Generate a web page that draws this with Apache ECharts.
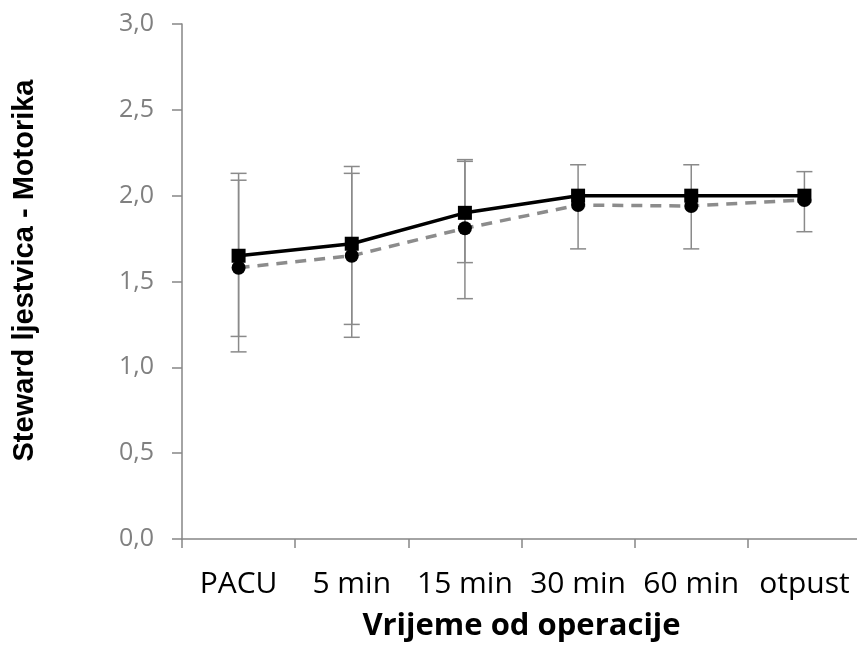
<!DOCTYPE html>
<html>
<head>
<meta charset="utf-8">
<script src="https://cdn.jsdelivr.net/npm/echarts@6/dist/echarts.min.js"></script>
<style>
html,body{margin:0;padding:0;background:#fff;}
#chart{width:857px;height:646px;}
</style>
</head>
<body>
<div id="chart"></div>
<script>
// ---- data ----
var categories = ['PACU', '5 min', '15 min', '30 min', '60 min', 'otpust'];
var solidMean = [1.65, 1.72, 1.90, 2.00, 2.00, 2.00];
var solidLow  = [1.18, 1.25, 1.61, null, null, null];
var solidHigh = [2.13, 2.17, 2.20, null, null, null];
var dashedMean = [1.58, 1.65, 1.81, 1.945, 1.94, 1.975];
var dashedLow  = [1.09, 1.175, 1.40, 1.69, 1.69, 1.79];
var dashedHigh = [2.09, 2.13, 2.21, 2.18, 2.18, 2.14];
var yMin = 0, yMax = 3, yStep = 0.5;
var xAxisName = 'Vrijeme od operacije';
var yAxisName = 'Steward ljestvica - Motorika';

function errData(lo, hi) {
  var out = [];
  for (var i = 0; i < lo.length; i++) {
    if (lo[i] != null && hi[i] != null) out.push([i, lo[i], hi[i]]);
  }
  return out;
}

function renderErr(params, api) {
  var x = api.value(0), lo = api.value(1), hi = api.value(2);
  var a = api.coord([x, lo]), b = api.coord([x, hi]);
  var hw = 8;
  var st = {stroke: '#8a8a8a', lineWidth: 1.5};
  return {type: 'group', children: [
    {type: 'line', shape: {x1: a[0], y1: a[1], x2: b[0], y2: b[1]}, style: st},
    {type: 'line', shape: {x1: a[0] - hw, y1: a[1], x2: a[0] + hw, y2: a[1]}, style: st},
    {type: 'line', shape: {x1: b[0] - hw, y1: b[1], x2: b[0] + hw, y2: b[1]}, style: st}
  ]};
}

var chart = echarts.init(document.getElementById('chart'), null, {renderer: 'canvas'});
chart.setOption({
  backgroundColor: '#ffffff',
  animation: false,
  grid: {left: 182, top: 24, width: 679, bottom: 107, containLabel: false, outerBoundsMode: 'none'},
  xAxis: {
    type: 'category',
    data: categories,
    boundaryGap: true,
    name: xAxisName,
    nameLocation: 'middle',
    nameGap: 72,
    nameTextStyle: {fontFamily: 'Open Sans', fontWeight: 'bold', fontSize: 31, color: '#000'},
    axisLine: {lineStyle: {color: '#868686', width: 1.5}},
    axisTick: {show: true, length: 9, lineStyle: {color: '#868686', width: 1.5}},
    axisLabel: {fontFamily: 'Open Sans', fontSize: 30, color: '#000', margin: 30, interval: 0},
    splitLine: {show: false}
  },
  yAxis: {
    type: 'value',
    min: yMin, max: yMax, interval: yStep,
    name: yAxisName,
    nameLocation: 'middle',
    nameGap: 143,
    nameRotate: 90,
    nameTextStyle: {fontFamily: 'Liberation Sans', fontWeight: 'bold', fontSize: 29, color: '#000', padding: [0, 0, 0, 22]},
    axisLine: {show: true, lineStyle: {color: '#868686', width: 1.5}},
    axisTick: {show: true, length: 10, lineStyle: {color: '#868686', width: 1.5}},
    axisLabel: {fontFamily: 'Open Sans', fontSize: 25, color: '#808080', margin: 28,
      formatter: function (v) { return v.toFixed(1).replace('.', ','); }},
    splitLine: {show: false}
  },
  series: [
    {type: 'custom', name: 'errDashed', renderItem: renderErr, data: errData(dashedLow, dashedHigh), encode: {x: 0, y: [1, 2]}, z: 1},
    {type: 'custom', name: 'errSolid', renderItem: renderErr, data: errData(solidLow, solidHigh), encode: {x: 0, y: [1, 2]}, z: 1},
    {type: 'line', name: 'dashed', data: dashedMean, symbol: 'circle', symbolSize: 14,
      itemStyle: {color: '#000'}, lineStyle: {color: '#8c8c8c', width: 3.5, type: [11, 8]}, z: 3},
    {type: 'line', name: 'solid', data: solidMean, symbol: 'rect', symbolSize: 14,
      itemStyle: {color: '#000'}, lineStyle: {color: '#000', width: 3.5}, z: 4}
  ]
});
</script>
</body>
</html>
